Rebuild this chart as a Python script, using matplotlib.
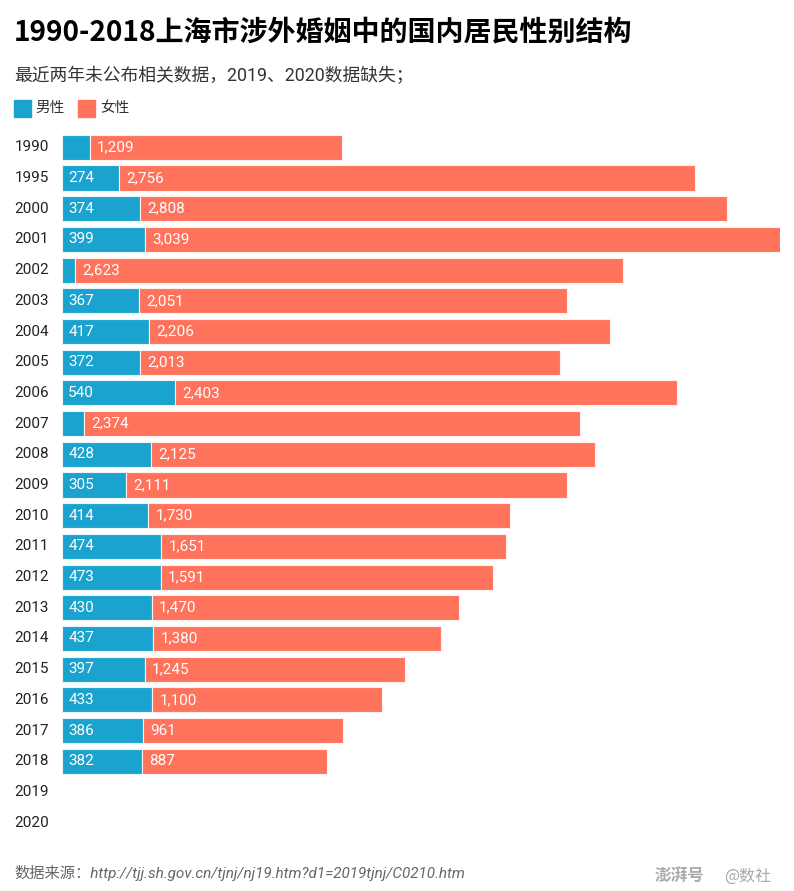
import matplotlib.pyplot as plt

years = ['1990', '1995', '2000', '2001', '2002', '2003', '2004', '2005', '2006', '2007',
         '2008', '2009', '2010', '2011', '2012', '2013', '2014', '2015', '2016', '2017',
         '2018', '2019', '2020']
# male values for 1990, 2002, 2007 are not labelled in the source
male = [132, 274, 374, 399, 64, 367, 417, 372, 540, 107,
        428, 305, 414, 474, 473, 430, 437, 397, 433, 386, 382, None, None]
female = [1209, 2756, 2808, 3039, 2623, 2051, 2206, 2013, 2403, 2374,
          2125, 2111, 1730, 1651, 1591, 1470, 1380, 1245, 1100, 961, 887, None, None]
labeled_male = [False, True, True, True, False, True, True, True, True, False,
                True, True, True, True, True, True, True, True, True, True, True, False, False]

BLUE = '#1aa3cf'
RED = '#ff735c'
CJK = ['Noto Sans CJK SC', 'DejaVu Sans']
NUM = ['Roboto', 'Noto Sans CJK SC', 'DejaVu Sans']
plt.rcParams['font.family'] = NUM

fig = plt.figure(figsize=(7.94, 8.91), dpi=100)
ax = fig.add_axes([62 / 794, 1 - 838 / 891, 718 / 794, 706 / 891])

for i, y in enumerate(years):
    if male[i] is None:
        continue
    ax.barh(i, male[i], height=0.82, color=BLUE, edgecolor='#e8f6fb', linewidth=0.8)
    ax.barh(i, female[i], left=male[i], height=0.82, color=RED, edgecolor='#fff0ec', linewidth=0.8)
    if labeled_male[i]:
        ax.text(30, i, f'{male[i]:,}', color='white', va='center', ha='left',
                fontsize=11, family='Roboto')
    ax.text(male[i] + 35, i, f'{female[i]:,}', color='white', va='center', ha='left',
            fontsize=11, family='Roboto')

ax.set_xlim(0, 3438)
ax.set_ylim(len(years) - 0.5, -0.5)
ax.axis('off')

for i, y in enumerate(years):
    ax.text(-228, i, y, va='center', ha='left', fontsize=11, color='#222222', family='Roboto')

fig.text(14 / 794, 1 - 33 / 891, '1990-2018上海市涉外婚姻中的国内居民性别结构',
         fontsize=20.2, fontweight='bold', va='center', ha='left', family=CJK)
fig.text(14 / 794, 1 - 76 / 891, '最近两年未公布相关数据，2019、2020数据缺失；',
         fontsize=12.8, va='center', ha='left', color='#333333', family=NUM)

# legend
fig.patches.append(plt.Rectangle((14 / 794, 1 - 117 / 891), 17 / 794, 17 / 891,
                                 transform=fig.transFigure, color=BLUE))
fig.text(35 / 794, 1 - 108 / 891, '男性', fontsize=10.5, va='center', ha='left', color='#333333',
         family=CJK)
fig.patches.append(plt.Rectangle((78 / 794, 1 - 117 / 891), 17 / 794, 17 / 891,
                                 transform=fig.transFigure, color=RED))
fig.text(100 / 794, 1 - 108 / 891, '女性', fontsize=10.5, va='center', ha='left', color='#333333',
         family=CJK)

fig.text(14 / 794, 1 - 873 / 891, '数据来源：http://tjj.sh.gov.cn/tjnj/nj19.htm?d1=2019tjnj/C0210.htm',
         fontsize=11, style='italic', va='center', ha='left', color='#666666', family=NUM)
fig.text(655 / 794, 1 - 876 / 891, '澎湃号', fontsize=12, fontweight='bold', style='italic',
         va='center', ha='left', color='#aaaaaa', family=CJK)
fig.text(724 / 794, 1 - 876 / 891, '@数社', fontsize=11.5, va='center', ha='left',
         color='#aaaaaa', family=CJK)

fig.savefig('out.png', dpi=100)
